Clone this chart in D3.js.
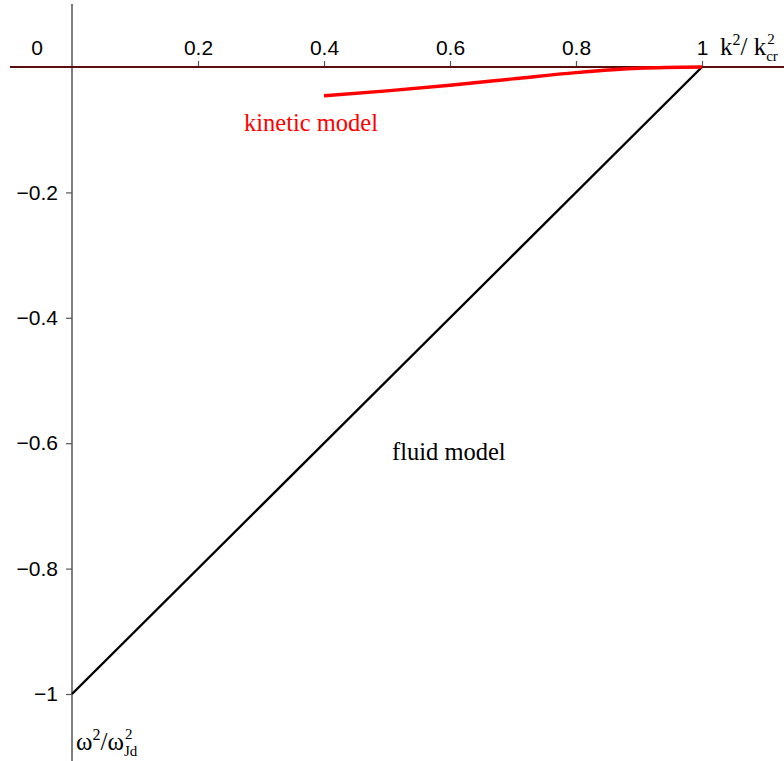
<!DOCTYPE html>
<html>
<head>
<meta charset="utf-8">
<script src="https://cdn.jsdelivr.net/npm/d3@7"></script>
<style>
  body { margin: 0; background: #fff; }
  svg { display: block; }
</style>
</head>
<body>
<svg id="chart" width="784" height="761"></svg>
<script>
// Normalised dispersion: omega^2/omega_Jd^2 against k^2/k_cr^2
const xTicks = [0.2, 0.4, 0.6, 0.8, 1];
const yTicks = [-0.2, -0.4, -0.6, -0.8, -1];
const fluidK = [0, 1];
const fluidW = [-1, 0];
const kineticK = [0.4, 0.5, 0.6, 0.7, 0.8, 0.9, 1.0];
const kineticW = [-0.046, -0.038, -0.029, -0.019, -0.009, -0.002, 0];

const svg = d3.select("#chart");
const x = d3.scaleLinear().domain([0, 1]).range([72, 702]);
const y = d3.scaleLinear().domain([-1, 0]).range([694, 67]);

const sans = "'Liberation Sans', Arial, sans-serif";
const serif = "'Liberation Serif', 'Times New Roman', serif";
const tickFont = 21;

// vertical axis line
svg.append("line")
  .attr("x1", x(0)).attr("x2", x(0))
  .attr("y1", 4).attr("y2", 761)
  .attr("stroke", "#555").attr("stroke-width", 1.5);

// x axis ticks (upwards)
const xAxis = d3.axisTop(x).tickValues(xTicks).tickSize(6)
  .tickFormat(d => d3.format("")(d));
const gx = svg.append("g").attr("transform", `translate(0,${y(0)})`).call(xAxis);
gx.select(".domain").remove();
gx.selectAll(".tick line").attr("stroke", "#555").attr("stroke-width", 1.2);
gx.selectAll(".tick text")
  .attr("font-family", sans).attr("font-size", tickFont).attr("fill", "#000")
  .attr("y", -12);

// origin label
svg.append("text").attr("x", 37).attr("y", y(0) - 12)
  .attr("text-anchor", "middle")
  .attr("font-family", sans).attr("font-size", tickFont).text("0");

// y axis ticks (leftwards)
const yAxis = d3.axisLeft(y).tickValues(yTicks).tickSize(6)
  .tickFormat(d => d3.format("")(d).replace("-", "\u2212"));
const gy = svg.append("g").attr("transform", `translate(${x(0)},0)`).call(yAxis);
gy.select(".domain").remove();
gy.selectAll(".tick line").attr("stroke", "#555").attr("stroke-width", 1.2);
gy.selectAll(".tick text")
  .attr("font-family", sans).attr("font-size", tickFont).attr("fill", "#000")
  .attr("x", -14);

// horizontal zero line
svg.append("line")
  .attr("x1", 10).attr("x2", 784)
  .attr("y1", y(0)).attr("y2", y(0))
  .attr("stroke", "#5a0f0f").attr("stroke-width", 2);

const line = d3.line().x(d => x(d[0])).y(d => y(d[1])).curve(d3.curveMonotoneX);

// fluid model
svg.append("path")
  .datum(d3.zip(fluidK, fluidW))
  .attr("d", line)
  .attr("fill", "none").attr("stroke", "#000").attr("stroke-width", 2.4);

// kinetic model
svg.append("path")
  .datum(d3.zip(kineticK, kineticW))
  .attr("d", line)
  .attr("fill", "none").attr("stroke", "#ff0000").attr("stroke-width", 3.4);

// curve labels
svg.append("text").attr("x", 244).attr("y", 131)
  .attr("font-family", serif).attr("font-size", 24.5).attr("fill", "#ff0000")
  .text("kinetic model");
svg.append("text").attr("x", 392).attr("y", 460)
  .attr("font-family", serif).attr("font-size", 24.5).attr("fill", "#000")
  .text("fluid model");

// axis titles with stacked super/subscripts
function title(xp, yp, base, sep, sub) {
  const t = svg.append("g").attr("font-family", serif).attr("fill", "#000");
  const a = t.append("text").attr("x", xp).attr("y", yp).attr("font-size", 25);
  a.append("tspan").text(base);
  a.append("tspan").attr("font-size", 16).attr("dy", -10).text("2");
  a.append("tspan").attr("dy", 10).text(sep);
  const w = a.node().getComputedTextLength();
  t.append("text").attr("x", xp + w + 1).attr("y", yp - 11)
    .attr("font-size", 15).text("2");
  t.append("text").attr("x", xp + w).attr("y", yp + 6)
    .attr("font-size", 15).text(sub);
}
title(720, 55, "k", "/ k", "cr");
title(76, 750, "\u03c9", "/\u03c9", "Jd");
</script>
</body>
</html>
